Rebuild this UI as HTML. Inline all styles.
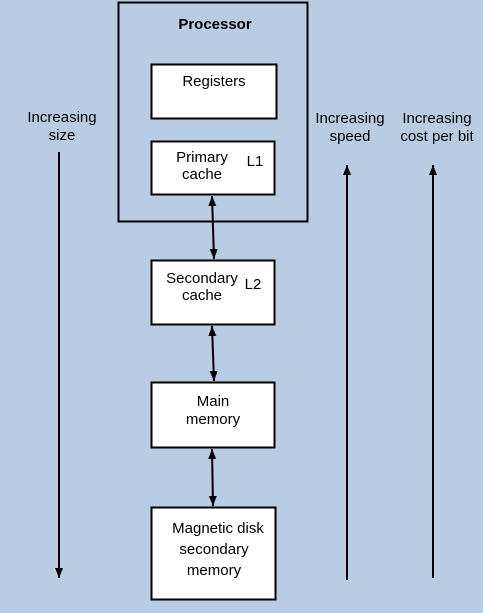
<!DOCTYPE html>
<html><head><style>
body{margin:0;width:483px;height:608px;background:#b8cce4;overflow:hidden;font-family:"Liberation Sans",sans-serif;}
</style></head><body>
<svg width="483" height="608" xmlns="http://www.w3.org/2000/svg" font-family="Liberation Sans, sans-serif" font-size="15" fill="#000">
<defs>
<marker id="a" markerWidth="10" markerHeight="8" refX="10" refY="4" orient="auto-start-reverse" markerUnits="userSpaceOnUse" viewBox="0 0 10 8"><path d="M0,0 L10,4 L0,8 Z" fill="#000"/></marker>
</defs>
<rect x="118.5" y="2.5" width="189" height="219" fill="none" stroke="#000" stroke-width="2"/>
<text x="215" y="29" text-anchor="middle" font-weight="bold" font-size="15">Processor</text>
<rect x="151.5" y="64.5" width="125" height="54" fill="#fff" stroke="#000" stroke-width="2"/>
<text x="214" y="86" text-anchor="middle">Registers</text>
<rect x="151.5" y="141.5" width="123" height="53" fill="#fff" stroke="#000" stroke-width="2"/>
<text x="202" y="162" text-anchor="middle">Primary</text>
<text x="202" y="179" text-anchor="middle">cache</text>
<text x="255" y="166" text-anchor="middle">L1</text>
<rect x="151.5" y="260.5" width="123" height="64" fill="#fff" stroke="#000" stroke-width="2"/>
<text x="202" y="283" text-anchor="middle">Secondary</text>
<text x="202" y="300" text-anchor="middle">cache</text>
<text x="253" y="289" text-anchor="middle">L2</text>
<rect x="151.5" y="382.5" width="123" height="65" fill="#fff" stroke="#000" stroke-width="2"/>
<text x="213" y="406" text-anchor="middle">Main</text>
<text x="213" y="424" text-anchor="middle">memory</text>
<rect x="151.5" y="507.5" width="124" height="92" fill="#fff" stroke="#000" stroke-width="2"/>
<text x="218" y="533" text-anchor="middle">Magnetic disk</text>
<text x="214" y="554" text-anchor="middle">secondary</text>
<text x="214" y="575" text-anchor="middle">memory</text>
<line x1="212" y1="196" x2="214" y2="259" stroke="#000" stroke-width="2" marker-start="url(#a)" marker-end="url(#a)"/>
<line x1="212" y1="326" x2="214" y2="381" stroke="#000" stroke-width="2" marker-start="url(#a)" marker-end="url(#a)"/>
<line x1="212" y1="449" x2="213" y2="506" stroke="#000" stroke-width="2" marker-start="url(#a)" marker-end="url(#a)"/>
<text x="62" y="122" text-anchor="middle">Increasing</text>
<text x="62" y="140" text-anchor="middle">size</text>
<line x1="59" y1="152" x2="59" y2="578" stroke="#000" stroke-width="2" marker-end="url(#a)"/>
<text x="350" y="123" text-anchor="middle">Increasing</text>
<text x="350" y="141" text-anchor="middle">speed</text>
<line x1="347" y1="580" x2="347" y2="165" stroke="#000" stroke-width="2" marker-end="url(#a)"/>
<text x="437" y="123" text-anchor="middle">Increasing</text>
<text x="437" y="141" text-anchor="middle">cost per bit</text>
<line x1="433" y1="578" x2="433" y2="165" stroke="#000" stroke-width="2" marker-end="url(#a)"/>
</svg>
</body></html>
